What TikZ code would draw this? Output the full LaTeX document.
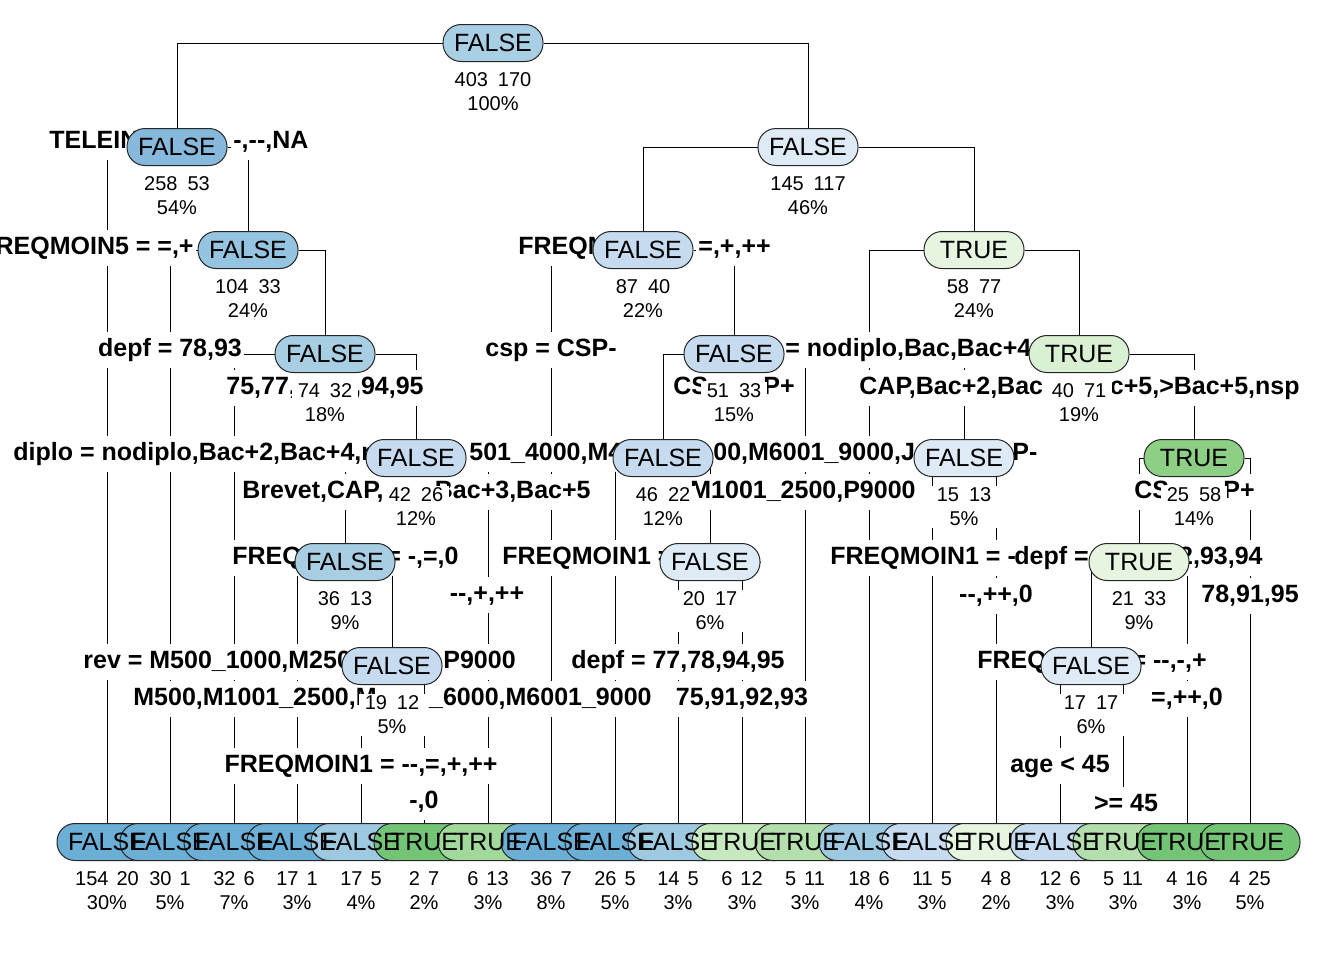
\documentclass[tikz,border=0pt]{standalone}
\usepackage{fontspec}
\setmainfont{Liberation Sans}[Ligatures=TeXOff]
\usetikzlibrary{positioning}
\definecolor{bluedk}{HTML}{6BAED6}
\definecolor{bluemd}{HTML}{9ECAE1}
\definecolor{bluelt}{HTML}{C6DBEF}
\definecolor{bluevl}{HTML}{DEEBF7}
\definecolor{blueroot}{HTML}{A9CFE5}
\definecolor{bluetwo}{HTML}{86B9DC}
\definecolor{bluefour}{HTML}{94C4DF}
\definecolor{blueseven}{HTML}{A8CEE4}
\definecolor{greendk}{HTML}{74C476}
\definecolor{greenmd}{HTML}{A1D99B}
\definecolor{greenmid}{HTML}{B3DFAC}
\definecolor{greenlt}{HTML}{C7E9C0}
\definecolor{greenvl}{HTML}{E5F5E0}
\definecolor{greennine}{HTML}{D9F0D3}
\definecolor{greenthirteen}{HTML}{8CCF85}
\pgfdeclarelayer{bg}
\pgfdeclarelayer{lab}
\pgfdeclarelayer{cnt}
\pgfdeclarelayer{top}
\pgfsetlayers{bg,lab,cnt,main,top}
\tikzset{
  tnode/.style={rectangle, rounded corners=9pt, draw=black!85, line width=0.5pt,
    minimum width=50pt, minimum height=18.5pt, inner sep=0pt, font=\fontsize{12.5}{14}\selectfont},
  ltext/.style={inner sep=0pt, font=\fontsize{12.5}{14}\selectfont},
  split/.style={fill=white, inner xsep=1pt, inner ysep=3pt, text height=9.2pt, text depth=2.6pt,
    yshift=-1pt, font=\fontsize{12.5}{14}\selectfont\bfseries},
  info/.style={fill=white, inner sep=1pt, minimum width=33pt, align=center,
    font=\fontsize{10}{12}\selectfont, below=4.2pt of #1},
  leafinfo/.style={info=#1, fill=none, minimum width=0pt},
}
\begin{document}
\begin{tikzpicture}[x=0.5pt,y=-0.5pt,line width=0.5pt]
\useasboundingbox (0,0) rectangle (1344,960);
\node[tnode, fill=blueroot] (n1) at (493,43) {FALSE};
\node[tnode, fill=bluetwo] (n2) at (177,147) {FALSE};
\node[tnode, fill=bluevl] (n3) at (808,147) {FALSE};
\node[tnode, fill=bluefour] (n4) at (248,250) {FALSE};
\node[tnode, fill=bluelt] (n5) at (643,250) {FALSE};
\node[tnode, fill=greenvl] (n6) at (974,250) {TRUE};
\node[tnode, fill=blueseven] (n7) at (325,354) {FALSE};
\node[tnode, fill=bluelt] (n8) at (734,354) {FALSE};
\node[tnode, fill=greennine] (n9) at (1079,354) {TRUE};
\node[tnode, fill=bluelt] (n10) at (416,458) {FALSE};
\node[tnode, fill=bluelt] (n11) at (663,458) {FALSE};
\node[tnode, fill=bluevl] (n12) at (964,458) {FALSE};
\node[tnode, fill=greenthirteen] (n13) at (1194,458) {TRUE};
\node[tnode, fill=blueseven] (n14) at (345,562) {FALSE};
\node[tnode, fill=bluevl] (n15) at (710,562) {FALSE};
\node[tnode, fill=greenvl] (n16) at (1139,562) {TRUE};
\node[tnode, fill=bluelt] (n17) at (392,666) {FALSE};
\node[tnode, fill=bluevl] (n18) at (1091,666) {FALSE};
\node[tnode, fill=bluedk] (l1) at (107,842) {};
\node[tnode, fill=bluedk] (l2) at (170,842) {};
\node[tnode, fill=bluedk] (l3) at (234,842) {};
\node[tnode, fill=bluedk] (l4) at (297,842) {};
\node[tnode, fill=bluemd] (l5) at (361,842) {};
\node[tnode, fill=greendk] (l6) at (424,842) {};
\node[tnode, fill=greenmd] (l7) at (488,842) {};
\node[tnode, fill=bluedk] (l8) at (551,842) {};
\node[tnode, fill=bluedk] (l9) at (615,842) {};
\node[tnode, fill=bluemd] (l10) at (678,842) {};
\node[tnode, fill=greenlt] (l11) at (742,842) {};
\node[tnode, fill=greenmid] (l12) at (805,842) {};
\node[tnode, fill=bluemd] (l13) at (869,842) {};
\node[tnode, fill=bluelt] (l14) at (932,842) {};
\node[tnode, fill=greenvl] (l15) at (996,842) {};
\node[tnode, fill=bluelt] (l16) at (1060,842) {};
\node[tnode, fill=greenmid] (l17) at (1123,842) {};
\node[tnode, fill=greendk] (l18) at (1187,842) {};
\node[tnode, fill=greendk] (l19) at (1250,842) {};
\begin{pgfonlayer}{top}
\node[ltext] at (l1) {FALSE};
\node[ltext] at (l2) {FALSE};
\node[ltext] at (l3) {FALSE};
\node[ltext] at (l4) {FALSE};
\node[ltext] at (l5) {FALSE};
\node[ltext] at (l6) {TRUE};
\node[ltext] at (l7) {TRUE};
\node[ltext] at (l8) {FALSE};
\node[ltext] at (l9) {FALSE};
\node[ltext] at (l10) {FALSE};
\node[ltext] at (l11) {TRUE};
\node[ltext] at (l12) {TRUE};
\node[ltext] at (l13) {FALSE};
\node[ltext] at (l14) {FALSE};
\node[ltext] at (l15) {TRUE};
\node[ltext] at (l16) {FALSE};
\node[ltext] at (l17) {TRUE};
\node[ltext] at (l18) {TRUE};
\node[ltext] at (l19) {TRUE};
\end{pgfonlayer}
\begin{pgfonlayer}{cnt}
\node[info=n1] (i1) {403\hspace{5pt}170\\100\%};
\node[info=n2] (i2) {258\hspace{5pt}53\\54\%};
\node[info=n3] (i3) {145\hspace{5pt}117\\46\%};
\node[info=n4] (i4) {104\hspace{5pt}33\\24\%};
\node[info=n5] (i5) {87\hspace{5pt}40\\22\%};
\node[info=n6] (i6) {58\hspace{5pt}77\\24\%};
\node[info=n7] (i7) {74\hspace{5pt}32\\18\%};
\node[info=n8] (i8) {51\hspace{5pt}33\\15\%};
\node[info=n9] (i9) {40\hspace{5pt}71\\19\%};
\node[info=n10] (i10) {42\hspace{5pt}26\\12\%};
\node[info=n11] (i11) {46\hspace{5pt}22\\12\%};
\node[info=n12] (i12) {15\hspace{5pt}13\\5\%};
\node[info=n13] (i13) {25\hspace{5pt}58\\14\%};
\node[info=n14] (i14) {36\hspace{5pt}13\\9\%};
\node[info=n15] (i15) {20\hspace{5pt}17\\6\%};
\node[info=n16] (i16) {21\hspace{5pt}33\\9\%};
\node[info=n17] (i17) {19\hspace{5pt}12\\5\%};
\node[info=n18] (i18) {17\hspace{5pt}17\\6\%};
\node[leafinfo=l1] (j1) {154\hspace{4pt}20\\30\%};
\node[leafinfo=l2] (j2) {30\hspace{4pt}1\\5\%};
\node[leafinfo=l3] (j3) {32\hspace{4pt}6\\7\%};
\node[leafinfo=l4] (j4) {17\hspace{4pt}1\\3\%};
\node[leafinfo=l5] (j5) {17\hspace{4pt}5\\4\%};
\node[leafinfo=l6] (j6) {2\hspace{4pt}7\\2\%};
\node[leafinfo=l7] (j7) {6\hspace{4pt}13\\3\%};
\node[leafinfo=l8] (j8) {36\hspace{4pt}7\\8\%};
\node[leafinfo=l9] (j9) {26\hspace{4pt}5\\5\%};
\node[leafinfo=l10] (j10) {14\hspace{4pt}5\\3\%};
\node[leafinfo=l11] (j11) {6\hspace{4pt}12\\3\%};
\node[leafinfo=l12] (j12) {5\hspace{4pt}11\\3\%};
\node[leafinfo=l13] (j13) {18\hspace{4pt}6\\4\%};
\node[leafinfo=l14] (j14) {11\hspace{4pt}5\\3\%};
\node[leafinfo=l15] (j15) {4\hspace{4pt}8\\2\%};
\node[leafinfo=l16] (j16) {12\hspace{4pt}6\\3\%};
\node[leafinfo=l17] (j17) {5\hspace{4pt}11\\3\%};
\node[leafinfo=l18] (j18) {4\hspace{4pt}16\\3\%};
\node[leafinfo=l19] (j19) {4\hspace{4pt}25\\5\%};
\end{pgfonlayer}
\begin{pgfonlayer}{lab}
\node[split, anchor=west] (s1) at (47,140) {TELEIN};
\node[split, anchor=west] (s2) at (231,140) {-,--,NA};
\node[split, anchor=east] (s3) at (196,246) {REQMOIN5 = =,+};
\node[split, anchor=west] (s4) at (516,246) {FREQM};
\node[split, anchor=west] (s5) at (696,246) {=,+,++};
\node[split] (s6) at (170,348) {depf = 78,93};
\node[split] (s7) at (551,348) {csp = CSP-};
\node[split, anchor=west] (s8) at (783,348) {= nodiplo,Bac,Bac+4};
\node[split, anchor=west] (s9) at (224,386) {75,77,};
\node[split, anchor=east] (s10) at (426,386) {,94,95};
\node[split, anchor=west] (s11) at (671,386) {CS};
\node[split, anchor=east] (s12) at (797,386) {P+};
\node[split, anchor=west] (s13) at (857,386) {CAP,Bac+2,Bac};
\node[split, anchor=east] (s14) at (1302,386) {c+5,>Bac+5,nsp};
\node[split, anchor=west] (s15) at (11,452) {diplo = nodiplo,Bac+2,Bac+4,n};
\node[split, anchor=west] (s16) at (467,452) {501\_4000,M4};
\node[split, anchor=west] (s17) at (711,452) {00,M6001\_9000,J};
\node[split, anchor=west] (s18) at (1010,452) {P-};
\node[split, anchor=west] (s19) at (240,490) {Brevet,CAP,};
\node[split, anchor=east] (s20) at (593,490) {Bac+3,Bac+5};
\node[split, anchor=east] (s21) at (918,490) {M1001\_2500,P9000};
\node[split, anchor=west] (s22) at (1132,490) {CS};
\node[split, anchor=east] (s23) at (1257,490) {P+};
\node[split, anchor=west] (s24) at (230,556) {FREQ};
\node[split, anchor=east] (s25) at (461,556) {= -,=,0};
\node[split, anchor=west] (s26) at (500,556) {FREQMOIN1 =};
\node[split, anchor=west] (s27) at (828,556) {FREQMOIN1 = -};
\node[split, anchor=west, fill=none] (s28) at (1012,556) {depf =};
\node[split, anchor=east] (s29) at (1265,556) {2,93,94};
\node[split] (s30) at (487,593) {--,+,++};
\node[split] (s31) at (996,594) {--,++,0};
\node[split] (s32) at (1250,594) {78,91,95};
\node[split, anchor=west] (s33) at (81,660) {rev = M500\_1000,M250};
\node[split, anchor=west] (s34) at (441,660) {P9000};
\node[split] (s35) at (678,660) {depf = 77,78,94,95};
\node[split, anchor=west] (s36) at (975,660) {FREQ};
\node[split, anchor=east] (s37) at (1209,660) {= --,-,+};
\node[split, anchor=west] (s38) at (131,697) {M500,M1001\_2500,M};
\node[split, anchor=east] (s39) at (654,697) {\_6000,M6001\_9000};
\node[split] (s40) at (742,697) {75,91,92,93};
\node[split] (s41) at (1187,697) {=,++,0};
\node[split] (s42) at (361,764) {FREQMOIN1 = --,=,+,++};
\node[split] (s43) at (1060,764) {age < 45};
\node[split] (s44) at (424,800) {-,0};
\node[split] (s45) at (1126,803) {>= 45};
\end{pgfonlayer}
\begin{pgfonlayer}{bg}
\fill[white] (0,0) rectangle (1344,960);
\draw (n2) |- (n1) -| (n3);
\draw (l1) |- (n2) -| (n4);
\draw (l2) |- (n4) -| (n7);
\draw (l3) |- (n7) -| (n10);
\draw (n14) |- (n10) -| (l7);
\draw (l4) |- (n14) -| (n17);
\draw (l5) |- (n17) -| (l6);
\draw (n5) |- (n3) -| (n6);
\draw (l8) |- (n5) -| (n8);
\draw (n11) |- (n8) -| (l12);
\draw (l9) |- (n11) -| (n15);
\draw (l10) |- (n15) -| (l11);
\draw (l13) |- (n6) -| (n9);
\draw (n12) |- (n9) -| (n13);
\draw (l14) |- (n12) -| (l15);
\draw (n16) |- (n13) -| (l19);
\draw (n18) |- (n16) -| (l18);
\draw (l16) |- (n18) -| (l17);
\end{pgfonlayer}
\end{tikzpicture}
\end{document}
